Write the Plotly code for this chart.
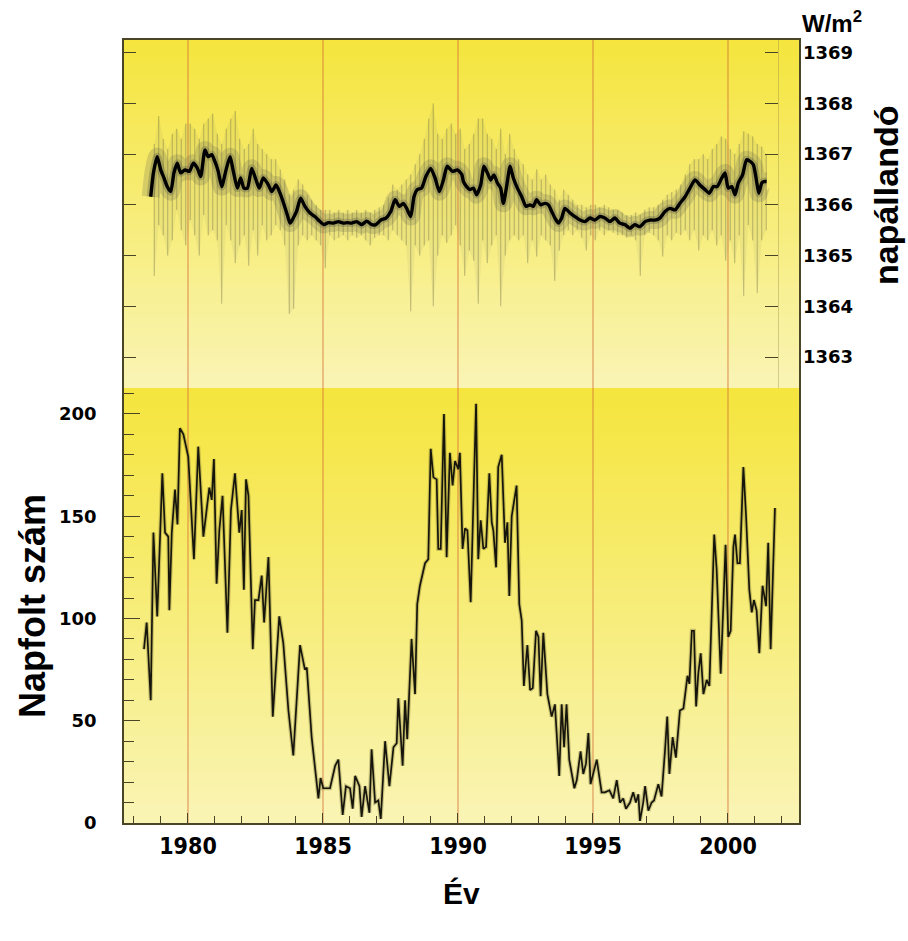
import plotly.graph_objects as go

# ---------------------------------------------------------------------------
# Data
# ---------------------------------------------------------------------------

# Monthly sunspot number (decimal year, value)
ssn_year = [
    1978.37, 1978.47, 1978.62, 1978.72, 1978.86, 1979.05, 1979.15, 1979.27, 1979.31, 1979.40,
    1979.52, 1979.61, 1979.70, 1979.83, 1980.01, 1980.08, 1980.22, 1980.38, 1980.57, 1980.79,
    1980.88, 1980.96, 1981.06, 1981.16, 1981.28, 1981.46, 1981.59, 1981.74, 1981.90, 1981.99,
    1982.07, 1982.15, 1982.24, 1982.40, 1982.48, 1982.61, 1982.73, 1982.82, 1982.98, 1983.14,
    1983.38, 1983.53, 1983.72, 1983.90, 1984.15, 1984.33, 1984.40, 1984.58, 1984.83, 1984.91,
    1985.01, 1985.26, 1985.45, 1985.57, 1985.73, 1985.85, 1986.00, 1986.10, 1986.19, 1986.35,
    1986.43, 1986.56, 1986.72, 1986.80, 1986.93, 1987.05, 1987.14, 1987.30, 1987.46, 1987.61,
    1987.73, 1987.79, 1987.95, 1988.04, 1988.12, 1988.28, 1988.41, 1988.49, 1988.59, 1988.78,
    1988.90, 1988.99, 1989.09, 1989.21, 1989.27, 1989.36, 1989.48, 1989.58, 1989.70,
    1989.80, 1989.89, 1990.01, 1990.07, 1990.17, 1990.26, 1990.35, 1990.47, 1990.67, 1990.75,
    1990.84, 1990.94, 1991.04, 1991.16, 1991.25, 1991.31, 1991.41, 1991.49, 1991.62, 1991.74,
    1991.83, 1991.90, 1991.99, 1992.17, 1992.27, 1992.36, 1992.44, 1992.57, 1992.67, 1992.77,
    1992.89, 1992.98, 1993.06, 1993.16, 1993.31, 1993.47, 1993.59, 1993.68, 1993.75, 1993.84,
    1993.93, 1994.02, 1994.12, 1994.31, 1994.40, 1994.54, 1994.64, 1994.74, 1994.83, 1994.91,
    1995.04, 1995.14, 1995.32, 1995.44, 1995.61, 1995.75, 1995.88, 1996.00, 1996.12, 1996.22,
    1996.37, 1996.49, 1996.59, 1996.68, 1996.74, 1996.86, 1996.93, 1997.05, 1997.17, 1997.26,
    1997.42, 1997.54, 1997.67, 1997.75, 1997.83, 1997.95, 1998.07, 1998.22, 1998.35, 1998.50,
    1998.57, 1998.66, 1998.74, 1998.82, 1998.90, 1998.99, 1999.09, 1999.21, 1999.31, 1999.40,
    1999.49, 1999.58, 1999.73, 1999.83, 1999.91, 2000.01, 2000.10, 2000.20, 2000.26, 2000.35,
    2000.44, 2000.57, 2000.67, 2000.79, 2000.88, 2000.96, 2001.06, 2001.16, 2001.28, 2001.41,
    2001.49, 2001.58, 2001.74,
]
ssn_value = [
    85, 98, 60, 142, 101, 171, 142, 140, 104, 142,
    163, 146, 193, 190, 179, 161, 129, 184, 140, 164,
    158, 178, 117, 143, 160, 93, 153, 171, 142, 153,
    114, 168, 160, 85, 109, 109, 121, 98, 130, 52,
    101, 88, 55, 33, 87, 75, 76, 42, 12, 22,
    17, 17, 28, 31, 4, 18, 17, 7, 23, 18,
    3, 18, 5, 36, 10, 11, 2, 40, 18, 37,
    39, 61, 28, 60, 41, 90, 63, 107, 116, 127,
    129, 183, 169, 168, 134, 134, 200, 130, 181,
    165, 177, 173, 181, 134, 144, 143, 108, 205, 129,
    148, 134, 135, 171, 147, 143, 125, 174, 180, 137,
    147, 111, 150, 165, 107, 99, 67, 87, 65, 66,
    94, 91, 62, 93, 63, 52, 58, 39, 23, 58,
    37, 58, 31, 17, 21, 35, 24, 29, 44, 19,
    26, 31, 15, 15, 16, 12, 21, 10, 12, 7,
    10, 15, 10, 14, 1, 10, 18, 6, 10, 11,
    19, 13, 36, 52, 24, 42, 32, 55, 56, 72,
    68, 94, 94, 57, 73, 83, 63, 70, 67, 107,
    141, 124, 73, 107, 136, 91, 94, 135, 141, 127,
    127, 174, 150, 114, 103, 109, 104, 83, 116, 106,
    137, 85, 154,
]

# Running mean of total solar irradiance (W/m^2)
tsi_year = [
    1978.62, 1978.72, 1978.86, 1978.99, 1979.11, 1979.23, 1979.36, 1979.48, 1979.60, 1979.73,
    1979.89, 1980.05, 1980.20, 1980.35, 1980.47, 1980.63, 1980.75, 1980.88, 1981.00, 1981.12,
    1981.25, 1981.41, 1981.56, 1981.68, 1981.83, 1981.95, 1982.07, 1982.20, 1982.36, 1982.52,
    1982.64, 1982.79, 1982.98, 1983.10, 1983.26, 1983.41, 1983.56, 1983.68, 1983.78, 1983.90,
    1984.02, 1984.17, 1984.33, 1984.52, 1984.70, 1984.89, 1985.04, 1985.20, 1985.38, 1985.57,
    1985.75, 1985.90, 1986.06, 1986.25, 1986.43, 1986.62, 1986.80, 1986.96, 1987.14, 1987.33,
    1987.51, 1987.67, 1987.83, 1987.98, 1988.10, 1988.25, 1988.37, 1988.49, 1988.65, 1988.81,
    1988.99, 1989.15, 1989.31, 1989.46, 1989.60, 1989.80, 1989.98, 1990.14, 1990.20, 1990.32,
    1990.44, 1990.57, 1990.69, 1990.84, 1990.96, 1991.09, 1991.21, 1991.33, 1991.46, 1991.58,
    1991.68, 1991.80, 1991.93, 1992.05, 1992.20, 1992.36, 1992.52, 1992.67, 1992.79, 1992.91,
    1993.06, 1993.22, 1993.35, 1993.47, 1993.59, 1993.72, 1993.84, 1993.96, 1994.15, 1994.33,
    1994.52, 1994.70, 1994.89, 1995.07, 1995.26, 1995.44, 1995.63, 1995.81, 1995.99, 1996.18,
    1996.37, 1996.55, 1996.74, 1996.93, 1997.11, 1997.30, 1997.48, 1997.67, 1997.85, 1998.04,
    1998.22, 1998.41, 1998.59, 1998.78, 1998.96, 1999.15, 1999.31, 1999.46, 1999.60, 1999.77,
    1999.89, 2000.01, 2000.14, 2000.26, 2000.38, 2000.54, 2000.69, 2000.84, 2000.94, 2001.04,
    2001.14, 2001.25, 2001.33, 2001.43,
]
tsi_mean = [
    1366.16, 1366.63, 1366.95, 1366.69, 1366.53, 1366.36, 1366.26, 1366.63, 1366.82, 1366.63,
    1366.69, 1366.66, 1366.82, 1366.72, 1366.56, 1367.08, 1366.95, 1366.99, 1366.85, 1366.66,
    1366.36, 1366.69, 1366.95, 1366.66, 1366.33, 1366.53, 1366.33, 1366.33, 1366.72, 1366.49,
    1366.33, 1366.53, 1366.39, 1366.26, 1366.39, 1366.23, 1366.00, 1365.80, 1365.64, 1365.74,
    1365.87, 1366.13, 1365.97, 1365.84, 1365.77, 1365.67, 1365.61, 1365.65, 1365.64, 1365.67,
    1365.64, 1365.65, 1365.64, 1365.67, 1365.61, 1365.68, 1365.61, 1365.61, 1365.70, 1365.74,
    1365.87, 1366.10, 1365.97, 1366.03, 1365.93, 1365.77, 1366.16, 1366.30, 1366.33, 1366.56,
    1366.72, 1366.53, 1366.26, 1366.49, 1366.76, 1366.66, 1366.69, 1366.60, 1366.46, 1366.36,
    1366.30, 1366.33, 1366.20, 1366.39, 1366.76, 1366.63, 1366.49, 1366.59, 1366.43, 1366.33,
    1366.03, 1366.36, 1366.76, 1366.53, 1366.33, 1366.16, 1365.97, 1366.00, 1365.97, 1366.10,
    1366.00, 1366.03, 1366.00, 1365.87, 1365.74, 1365.64, 1365.74, 1365.93, 1365.84, 1365.77,
    1365.70, 1365.67, 1365.74, 1365.70, 1365.77, 1365.74, 1365.67, 1365.74, 1365.64, 1365.61,
    1365.54, 1365.61, 1365.57, 1365.67, 1365.70, 1365.70, 1365.74, 1365.87, 1365.93, 1365.90,
    1366.03, 1366.16, 1366.33, 1366.49, 1366.39, 1366.30, 1366.23, 1366.36, 1366.36, 1366.53,
    1366.63, 1366.33, 1366.36, 1366.20, 1366.43, 1366.59, 1366.89, 1366.85, 1366.79, 1366.53,
    1366.23, 1366.43, 1366.46, 1366.46,
]

# Daily irradiance extremes within consecutive two-month windows (W/m^2)
tsi_window_start = 1978.75
tsi_window_len = 1 / 6
tsi_high = [
    1367.2, 1367.75, 1367.3, 1367.1, 1367.4, 1367.5, 1367.3, 1367.6, 1367.6, 1367.5,
    1367.3, 1367.6, 1367.7, 1367.8, 1367.4, 1367.2, 1367.5, 1367.7, 1367.85, 1367.3,
    1367.1, 1367.2, 1367.5, 1367.2, 1367.1, 1367.0, 1366.9, 1366.9, 1366.7, 1366.5,
    1366.2, 1366.3, 1366.5, 1366.4, 1366.2, 1366.1, 1366.0, 1365.9, 1365.9, 1365.9,
    1365.85, 1365.9, 1365.85, 1365.9, 1365.85, 1365.9, 1365.85, 1365.9, 1365.85, 1365.9,
    1365.95, 1366.0, 1366.15, 1366.4, 1366.3, 1366.4, 1366.5, 1366.6, 1366.8, 1367.0,
    1367.3, 1367.7, 1368.0, 1367.4, 1367.3, 1367.5, 1367.6, 1367.4, 1367.5, 1367.1,
    1367.2, 1367.4, 1367.7, 1367.7, 1367.4, 1367.3, 1367.1, 1367.5, 1367.0, 1367.4,
    1367.1, 1366.9, 1366.8, 1366.6, 1366.5, 1366.7, 1366.5, 1366.6, 1366.4, 1366.3,
    1366.1, 1366.3, 1366.2, 1366.1, 1366.0, 1366.0, 1365.95, 1366.0, 1366.0, 1365.95,
    1366.0, 1365.95, 1365.9, 1365.9, 1365.85, 1365.8, 1365.8, 1365.85, 1365.8, 1365.9,
    1365.95, 1365.95, 1366.0, 1366.1, 1366.2, 1366.25, 1366.3, 1366.4, 1366.6, 1366.8,
    1366.9, 1366.9, 1367.0, 1366.9, 1367.1, 1367.2, 1367.35, 1367.3, 1367.1, 1367.0,
    1367.2, 1367.45, 1367.4, 1367.35, 1367.2, 1367.15, 1367.0,
]
tsi_low = [
    1364.6, 1365.6, 1365.4, 1365.0, 1365.3, 1365.9, 1365.5, 1365.2, 1365.7, 1365.4,
    1365.0, 1365.8, 1365.4, 1365.5, 1365.3, 1364.05, 1365.6, 1365.3, 1364.85, 1365.2,
    1365.4, 1364.8, 1365.5, 1365.0, 1365.6, 1365.3, 1365.4, 1365.6, 1365.5, 1365.2,
    1363.85, 1363.95, 1365.2, 1365.4, 1365.3, 1365.4, 1365.3, 1365.2, 1364.75, 1365.4,
    1365.3, 1365.35, 1365.4, 1365.3, 1365.4, 1365.35, 1365.4, 1365.3, 1365.2, 1365.35,
    1365.4, 1365.4, 1365.3, 1365.5, 1365.4, 1365.3, 1365.2, 1363.9, 1365.2, 1365.0,
    1365.2, 1365.3, 1364.0, 1365.0, 1365.4, 1365.25, 1365.4, 1365.6, 1365.2, 1364.6,
    1365.1, 1364.9, 1364.05, 1365.3, 1364.85, 1365.2, 1365.4, 1364.0, 1365.0, 1365.3,
    1365.4, 1365.3, 1365.4, 1364.85, 1365.3, 1364.98, 1365.4, 1365.3, 1365.2, 1364.5,
    1365.1, 1365.4, 1365.5, 1365.4, 1365.5, 1365.35, 1365.1, 1365.4, 1365.3, 1365.5,
    1365.4, 1365.5, 1365.45, 1365.4, 1365.4, 1365.35, 1365.4, 1365.3, 1364.6, 1365.4,
    1365.45, 1365.4, 1365.3, 1364.98, 1365.4, 1365.3, 1365.45, 1365.4, 1365.5, 1365.3,
    1365.5, 1365.1, 1365.4, 1365.3, 1365.5, 1365.2, 1365.4, 1364.9, 1365.3, 1364.85,
    1365.4, 1364.2, 1365.6, 1365.3, 1364.26, 1365.3, 1365.5,
]

# Axis ticks and labels
year_ticks = [1980, 1985, 1990, 1995, 2000]
ssn_ticks = [0, 50, 100, 150, 200]
tsi_ticks = [1363, 1364, 1365, 1366, 1367, 1368, 1369]

# ---------------------------------------------------------------------------
# Styling
# ---------------------------------------------------------------------------
BG_TOP = (245, 229, 62)
BG_BOTTOM = (249, 244, 180)
AXIS_COLOR = "#4a4527"
CYCLE_LINE = "rgba(215, 110, 55, 0.8)"
BOTTOM_DOMAIN = [0.0, 0.5556]
TOP_DOMAIN = [0.5556, 1.0]
X_RANGE = [1977.63, 2002.63]
TSI_RANGE = [1362.39, 1369.25]

TICK_FONT = dict(family="DejaVu Sans", size=18, color="black", weight="bold")
YEAR_FONT = dict(family="DejaVu Sans Condensed, Liberation Sans Narrow, sans-serif",
                 size=23, color="black", weight="bold")
TITLE_FONT = "Liberation Sans, Arial, sans-serif"


def gradient_bands(yref, n=70):
    """Vertical yellow gradient behind one panel, built from thin bands."""
    bands = []
    for i in range(n):
        f = i / (n - 1)
        r, g, b = (round(BG_TOP[c] + (BG_BOTTOM[c] - BG_TOP[c]) * f) for c in range(3))
        y1 = 1 - i / n
        y0 = max(0.0, 1 - (i + 1) / n - 0.003)
        bands.append(dict(type="rect", xref="paper", yref=yref, x0=0, x1=1, y0=y0, y1=y1,
                          fillcolor=f"rgb({r},{g},{b})", line=dict(width=0), layer="below"))
    return bands


shapes = gradient_bands("y2 domain") + gradient_bands("y domain")
for yr in year_ticks:
    shapes.append(dict(type="line", xref="x", yref="paper", x0=yr, x1=yr, y0=0, y1=1,
                       line=dict(color=CYCLE_LINE, width=1), layer="below"))

# Irradiance daily scatter: a faint envelope plus vertical strokes low -> high
window_year = [tsi_window_start + k * tsi_window_len for k in range(len(tsi_high))]
spike_x, spike_y = [], []
for t, lo, hi in zip(window_year, tsi_low, tsi_high):
    spike_x += [t, t, None]
    spike_y += [lo, hi, None]

fig = go.Figure()

fig.add_trace(go.Scatter(x=window_year + window_year[::-1], y=tsi_high + tsi_low[::-1],
                         mode="lines", fill="toself", xaxis="x2", yaxis="y2",
                         fillcolor="rgba(120, 118, 85, 0.08)", line=dict(width=0),
                         hoverinfo="skip", showlegend=False))
fig.add_trace(go.Scatter(x=spike_x, y=spike_y, mode="lines", xaxis="x2", yaxis="y2",
                         line=dict(color="rgba(95, 93, 65, 0.45)", width=0.9),
                         hoverinfo="skip", showlegend=False))
fig.add_trace(go.Scatter(x=tsi_year, y=tsi_mean, mode="lines", xaxis="x2", yaxis="y2",
                         line=dict(color="rgba(95, 95, 72, 0.22)", width=18, shape="spline",
                                   smoothing=0.6),
                         hoverinfo="skip", showlegend=False))
fig.add_trace(go.Scatter(x=tsi_year, y=tsi_mean, mode="lines", xaxis="x2", yaxis="y2",
                         line=dict(color="rgba(85, 85, 65, 0.30)", width=8, shape="spline",
                                   smoothing=0.6),
                         hoverinfo="skip", showlegend=False))
fig.add_trace(go.Scatter(x=tsi_year, y=tsi_mean, mode="lines", xaxis="x2", yaxis="y2",
                         line=dict(color="black", width=3.4, shape="spline", smoothing=0.6),
                         name="napállandó", showlegend=False))

fig.add_trace(go.Scatter(x=ssn_year, y=ssn_value, mode="lines", xaxis="x", yaxis="y",
                         line=dict(color="rgba(115, 105, 45, 0.35)", width=4),
                         hoverinfo="skip", showlegend=False))
fig.add_trace(go.Scatter(x=ssn_year, y=ssn_value, mode="lines", xaxis="x", yaxis="y",
                         line=dict(color="#16150c", width=1.7), name="Napfolt szám",
                         showlegend=False))

# Invisible carriers so the right-hand irradiance axes get drawn
for ax in ("y3", "y4"):
    fig.add_trace(go.Scatter(x=[tsi_year[0]], y=[tsi_mean[0]], mode="markers",
                             xaxis="x2", yaxis=ax, marker=dict(opacity=0),
                             hoverinfo="skip", showlegend=False))

fig.update_layout(
    width=908, height=941,
    margin=dict(l=124, r=109, t=40, b=118),
    paper_bgcolor="white", plot_bgcolor="white",
    shapes=shapes,
    xaxis=dict(
        domain=[0, 1], range=X_RANGE, anchor="y",
        tickmode="array", tickvals=year_ticks, ticktext=[str(y) for y in year_ticks],
        ticks="inside", ticklen=10, tickwidth=1.3, tickcolor=AXIS_COLOR,
        minor=dict(tickmode="array", tickvals=list(range(1978, 2003)), ticks="inside",
                   ticklen=7, tickwidth=1.2, tickcolor=AXIS_COLOR),
        showline=True, linecolor=AXIS_COLOR, linewidth=1.5,
        showgrid=False, zeroline=False, tickfont=YEAR_FONT, ticklabelstandoff=2,
    ),
    yaxis=dict(
        domain=BOTTOM_DOMAIN, range=[0, 212.7], anchor="x",
        tickmode="array", tickvals=ssn_ticks, ticktext=[str(v) for v in ssn_ticks],
        ticks="inside", ticklen=16, tickwidth=1.4, tickcolor=AXIS_COLOR,
        minor=dict(tickmode="array", tickvals=list(range(10, 211, 10)), ticks="inside",
                   ticklen=10, tickwidth=1.3, tickcolor=AXIS_COLOR),
        showline=True, mirror=True, linecolor=AXIS_COLOR, linewidth=1.5,
        showgrid=False, zeroline=False, tickfont=TICK_FONT, ticklabelstandoff=22,
    ),
    xaxis2=dict(
        domain=[0, 1], range=X_RANGE, anchor="y2", matches="x", side="top",
        showticklabels=False, ticks="", showline=True, linecolor=AXIS_COLOR, linewidth=1.5,
        showgrid=False, zeroline=False,
    ),
    yaxis2=dict(
        domain=TOP_DOMAIN, range=TSI_RANGE, anchor="x2",
        tickmode="array", tickvals=tsi_ticks, ticks="inside", ticklen=12,
        tickwidth=1.3, tickcolor=AXIS_COLOR, showticklabels=False,
        showline=True, mirror=True, linecolor=AXIS_COLOR, linewidth=1.5,
        showgrid=False, zeroline=False,
    ),
    yaxis3=dict(
        overlaying="y2", side="right", anchor="x2", range=TSI_RANGE,
        tickmode="array", tickvals=tsi_ticks, ticktext=[str(v) for v in tsi_ticks],
        ticks="", showline=False, showgrid=False, zeroline=False,
        tickfont=TICK_FONT, ticklabelstandoff=3,
    ),
    yaxis4=dict(
        overlaying="y2", side="right", anchor="free", position=0.9689, range=TSI_RANGE,
        tickmode="array", tickvals=tsi_ticks,
        ticks="inside", ticklen=13, tickwidth=1.3, tickcolor=AXIS_COLOR,
        showticklabels=False, showline=True, linecolor="rgba(140, 125, 60, 0.35)",
        linewidth=1, showgrid=False, zeroline=False,
    ),
    annotations=[
        dict(text="Napfolt szám", xref="paper", yref="paper", x=-0.1363, y=0.2771,
             textangle=-90, showarrow=False, xanchor="center", yanchor="middle",
             font=dict(family=TITLE_FONT, size=36, color="black", weight="bold")),
        dict(text="napállandó", xref="paper", yref="paper", x=1.1289, y=0.8008,
             textangle=-90, showarrow=False, xanchor="center", yanchor="middle",
             font=dict(family=TITLE_FONT, size=34, color="black", weight="bold")),
        dict(text="W/m<sup>2</sup>", xref="paper", yref="paper", x=1.0015, y=1.023,
             showarrow=False, xanchor="left", yanchor="middle",
             font=dict(family=TITLE_FONT, size=24, color="black", weight="bold")),
        dict(text="Év", xref="paper", yref="paper", x=0.5, y=-0.0894,
             showarrow=False, xanchor="center", yanchor="middle",
             font=dict(family=TITLE_FONT, size=30, color="black", weight="bold")),
    ],
)

fig.write_html("out.html")
